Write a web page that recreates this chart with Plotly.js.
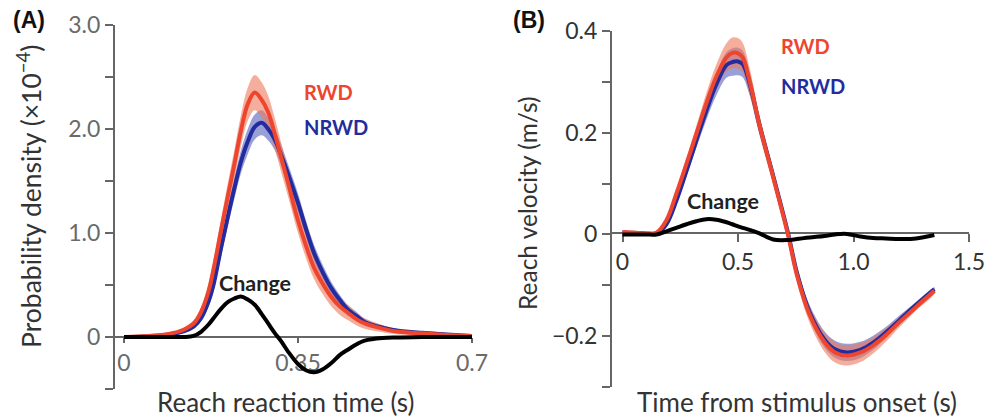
<!DOCTYPE html>
<html>
<head>
<meta charset="utf-8">
<script src="https://cdn.plot.ly/plotly-3.0.1.min.js"></script>
<style>html,body{margin:0;padding:0;background:#fff;}#chart{width:987px;height:419px;}</style>
</head>
<body>
<div id="chart"></div>
<script>
// ---------- Panel A: reach reaction time distributions ----------
const timeA = [0, 0.05, 0.09, 0.12, 0.14, 0.155, 0.17, 0.18, 0.195, 0.21, 0.222, 0.235, 0.249, 0.263, 0.277, 0.29, 0.303, 0.316, 0.33, 0.35, 0.366, 0.382, 0.4, 0.417, 0.435, 0.451, 0.468, 0.484, 0.52, 0.552, 0.6, 0.65, 0.7];
const rwdA = [0.0, 0.01, 0.03, 0.07, 0.13, 0.24, 0.44, 0.65, 1.02, 1.38, 1.66, 1.98, 2.24, 2.35, 2.28, 2.16, 1.96, 1.73, 1.48, 1.12, 0.88, 0.67, 0.51, 0.385, 0.29, 0.23, 0.17, 0.13, 0.08, 0.05, 0.035, 0.02, 0.01];
const rwdAErr = [0.004, 0.005, 0.01, 0.02, 0.03, 0.05, 0.07, 0.09, 0.11, 0.13, 0.14, 0.15, 0.16, 0.17, 0.17, 0.16, 0.15, 0.14, 0.13, 0.12, 0.12, 0.11, 0.1, 0.09, 0.08, 0.07, 0.06, 0.05, 0.035, 0.025, 0.015, 0.01, 0.008];
const nrwdA = [0.0, 0.008, 0.025, 0.055, 0.1, 0.18, 0.34, 0.5, 0.85, 1.18, 1.43, 1.68, 1.88, 2.02, 2.06, 2.0, 1.9, 1.75, 1.57, 1.29, 1.04, 0.81, 0.62, 0.47, 0.35, 0.26, 0.2, 0.145, 0.09, 0.06, 0.04, 0.025, 0.01];
const nrwdAErr = [0.003, 0.004, 0.008, 0.015, 0.02, 0.03, 0.05, 0.06, 0.08, 0.09, 0.1, 0.11, 0.12, 0.12, 0.12, 0.11, 0.1, 0.1, 0.09, 0.09, 0.08, 0.08, 0.07, 0.06, 0.05, 0.045, 0.04, 0.03, 0.02, 0.015, 0.01, 0.008, 0.006];
const changeA = [0, 0, 0, 0, 0.01, 0.05, 0.12, 0.18, 0.27, 0.34, 0.37, 0.39, 0.36, 0.31, 0.22, 0.13, 0.04, -0.04, -0.14, -0.26, -0.32, -0.34, -0.31, -0.25, -0.17, -0.12, -0.07, -0.035, -0.01, -0.005, 0, 0, 0];

// ---------- Panel B: reach velocity ----------
const timeB = [0, 0.05, 0.1, 0.148, 0.19, 0.233, 0.277, 0.32, 0.363, 0.406, 0.45, 0.476, 0.5, 0.52, 0.55, 0.593, 0.652, 0.716, 0.755, 0.81, 0.875, 0.92, 0.97, 1.03, 1.085, 1.14, 1.2, 1.27, 1.35];
const rwdB = [0.005, 0.004, 0.002, 0.004, 0.028, 0.08, 0.139, 0.198, 0.258, 0.31, 0.348, 0.357, 0.356, 0.348, 0.302, 0.215, 0.113, 0.0, -0.08, -0.158, -0.212, -0.232, -0.238, -0.232, -0.218, -0.198, -0.172, -0.143, -0.111];
const rwdBErr = [0.002, 0.002, 0.002, 0.002, 0.004, 0.008, 0.012, 0.016, 0.02, 0.024, 0.028, 0.03, 0.03, 0.029, 0.026, 0.02, 0.015, 0.012, 0.013, 0.016, 0.019, 0.02, 0.02, 0.019, 0.016, 0.013, 0.01, 0.007, 0.005];
const nrwdB = [0.004, 0.003, 0.002, 0.002, 0.02, 0.066, 0.125, 0.185, 0.243, 0.295, 0.333, 0.339, 0.34, 0.335, 0.297, 0.215, 0.116, 0.004, -0.075, -0.153, -0.207, -0.226, -0.232, -0.227, -0.213, -0.193, -0.168, -0.139, -0.108];
const nrwdBErr = [0.002, 0.002, 0.002, 0.002, 0.003, 0.007, 0.011, 0.014, 0.018, 0.022, 0.025, 0.027, 0.027, 0.026, 0.023, 0.018, 0.013, 0.01, 0.011, 0.014, 0.016, 0.017, 0.017, 0.016, 0.014, 0.011, 0.009, 0.006, 0.004];
const changeB = [0, 0, 0, 0, 0.006, 0.013, 0.02, 0.026, 0.03, 0.029, 0.024, 0.02, 0.016, 0.013, 0.009, 0.002, -0.01, -0.011, -0.009, -0.006, -0.003, 0.0, 0.001, -0.004, -0.007, -0.008, -0.009, -0.008, -0.001];

// ---------- tick labels ----------
const xTickValsA = [0, 0.35, 0.7];
const xTickTextA = ['0', '0.35', '0.7'];
const yTickValsA = [0, 1.0, 2.0, 3.0];
const yTickTextA = ['0', '1.0', '2.0', '3.0'];
const yMinorValsA = [-0.5, 0.5, 1.5, 2.5];
const xTickValsB = [0, 0.5, 1.0, 1.5];
const xTickTextB = ['0', '0.5', '1.0', '1.5'];
const yTickValsB = [-0.2, 0, 0.2, 0.4];
const yTickTextB = ['\u22120.2', '0', '0.2', '0.4'];
const yMinorValsB = [-0.3, -0.1, 0.1, 0.3];

const RED = '#EE452F', BLUE = '#232C9E', BLACK = '#000000';
const RED_BAND = 'rgba(238,120,90,0.6)', BLUE_BAND = 'rgba(50,65,175,0.5)';
const FONT = 'Lato, "Open Sans", sans-serif';

function band(x, m, e, color, xa, ya) {
  const up = m.map((v, i) => v + e[i]);
  const lo = m.map((v, i) => v - e[i]);
  return {x: x.concat(x.slice().reverse()), y: up.concat(lo.reverse()),
    type: 'scatter', mode: 'lines', fill: 'toself', fillcolor: color,
    line: {width: 0, shape: 'spline', smoothing: 1}, hoverinfo: 'skip', xaxis: xa, yaxis: ya};
}
function line(x, y, color, xa, ya) {
  return {x: x, y: y, type: 'scatter', mode: 'lines', line: {color: color, width: 4, shape: 'spline', smoothing: 1}, xaxis: xa, yaxis: ya};
}

const traces = [
  band(timeA, nrwdA, nrwdAErr, BLUE_BAND, 'x', 'y'),
  band(timeA, rwdA, rwdAErr, RED_BAND, 'x', 'y'),
  line(timeA, nrwdA, BLUE, 'x', 'y'),
  line(timeA, rwdA, RED, 'x', 'y'),
  line(timeA, changeA, BLACK, 'x', 'y'),
  band(timeB, nrwdB, nrwdBErr, BLUE_BAND, 'x2', 'y2'),
  band(timeB, rwdB, rwdBErr, RED_BAND, 'x2', 'y2'),
  line(timeB, nrwdB, BLUE, 'x2', 'y2'),
  line(timeB, rwdB, RED, 'x2', 'y2'),
  line(timeB, changeB, BLACK, 'x2', 'y2')
];

const W = 987, H = 419;
const px = v => v / W, py = v => 1 - v / H;
const axisCommon = {showline: true, linecolor: '#666', linewidth: 2, ticks: 'outside', tickwidth: 2, tickcolor: '#666',
  showgrid: false, zeroline: false, tickmode: 'array', layer: 'below traces', fixedrange: true};
const minor = vals => ({tickmode: 'array', tickvals: vals, ticks: 'outside', ticklen: 8, tickwidth: 2, tickcolor: '#666', showgrid: false});

const layout = {
  width: W, height: H, margin: {l: 0, r: 0, t: 0, b: 0}, showlegend: false,
  paper_bgcolor: '#fff', plot_bgcolor: '#fff', font: {family: FONT},
  xaxis: Object.assign({}, axisCommon, {domain: [px(115), px(472)], range: [-0.0181, 0.7], anchor: 'free', position: py(337),
    tickvals: xTickValsA, ticktext: xTickTextA, ticklen: 5, tickfont: {size: 23, color: '#6a6a6a', family: FONT}}),
  yaxis: Object.assign({}, axisCommon, {domain: [py(389), py(25)], range: [-0.5, 3.0], anchor: 'x',
    tickvals: yTickValsA, ticktext: yTickTextA, ticklen: 8, tickfont: {size: 23, color: '#6a6a6a', family: FONT},
    minor: minor(yMinorValsA)}),
  xaxis2: Object.assign({}, axisCommon, {domain: [px(612), px(969)], range: [-0.0455, 1.5], anchor: 'free', position: py(233),
    tickvals: xTickValsB, ticktext: xTickTextB, ticklen: 8, tickfont: {size: 23, color: '#333', family: FONT}}),
  yaxis2: Object.assign({}, axisCommon, {domain: [py(387), py(31)], range: [-0.3, 0.4], anchor: 'x2',
    tickvals: yTickValsB, ticktext: yTickTextB, ticklen: 8, tickfont: {size: 23, color: '#333', family: FONT},
    minor: minor(yMinorValsB)}),
  annotations: [
    {text: '(A)', xref: 'paper', yref: 'paper', x: px(11), y: py(20), xanchor: 'left', yanchor: 'middle', showarrow: false,
      font: {family: '"Liberation Sans", Arial, sans-serif', size: 23, color: '#111', weight: 'bold'}},
    {text: '(B)', xref: 'paper', yref: 'paper', x: px(511), y: py(20), xanchor: 'left', yanchor: 'middle', showarrow: false,
      font: {family: '"Liberation Sans", Arial, sans-serif', size: 23, color: '#111', weight: 'bold'}},
    {text: 'Probability density (×10<sup>−4</sup>)', xref: 'paper', yref: 'paper', x: px(29), y: py(197), textangle: -90,
      xanchor: 'center', yanchor: 'middle', showarrow: false, font: {size: 26.5, color: '#333'}},
    {text: 'Reach reaction time (s)', xref: 'paper', yref: 'paper', x: px(155), y: py(402),
      xanchor: 'left', yanchor: 'middle', showarrow: false, font: {size: 26, color: '#333'}},
    {text: 'Reach velocity (m/s)', xref: 'paper', yref: 'paper', x: px(528), y: py(203), textangle: -90,
      xanchor: 'center', yanchor: 'middle', showarrow: false, font: {size: 24.5, color: '#333'}},
    {text: 'Time from stimulus onset (s)', xref: 'paper', yref: 'paper', x: px(797), y: py(402),
      xanchor: 'center', yanchor: 'middle', showarrow: false, font: {size: 26, color: '#333'}},
    {text: 'RWD', xref: 'x', yref: 'y', x: 0.358, y: 2.36, xanchor: 'left', yanchor: 'middle', showarrow: false,
      font: {size: 20, color: RED, weight: 'bold'}},
    {text: 'NRWD', xref: 'x', yref: 'y', x: 0.358, y: 2.02, xanchor: 'left', yanchor: 'middle', showarrow: false,
      font: {size: 20, color: BLUE, weight: 'bold'}},
    {text: 'Change', xref: 'x', yref: 'y', x: 0.264, y: 0.52, xanchor: 'center', yanchor: 'middle', showarrow: false,
      font: {size: 21.5, color: '#222', weight: 'bold'}},
    {text: 'RWD', xref: 'x2', yref: 'y2', x: 0.677, y: 0.370, xanchor: 'left', yanchor: 'middle', showarrow: false,
      font: {size: 20, color: RED, weight: 'bold'}},
    {text: 'NRWD', xref: 'x2', yref: 'y2', x: 0.677, y: 0.291, xanchor: 'left', yanchor: 'middle', showarrow: false,
      font: {size: 20, color: BLUE, weight: 'bold'}},
    {text: 'Change', xref: 'x2', yref: 'y2', x: 0.435, y: 0.065, xanchor: 'center', yanchor: 'middle', showarrow: false,
      font: {size: 21.5, color: '#222', weight: 'bold'}}
  ]
};

Plotly.newPlot('chart', traces, layout, {displayModeBar: false, staticPlot: true});
</script>
</body>
</html>
